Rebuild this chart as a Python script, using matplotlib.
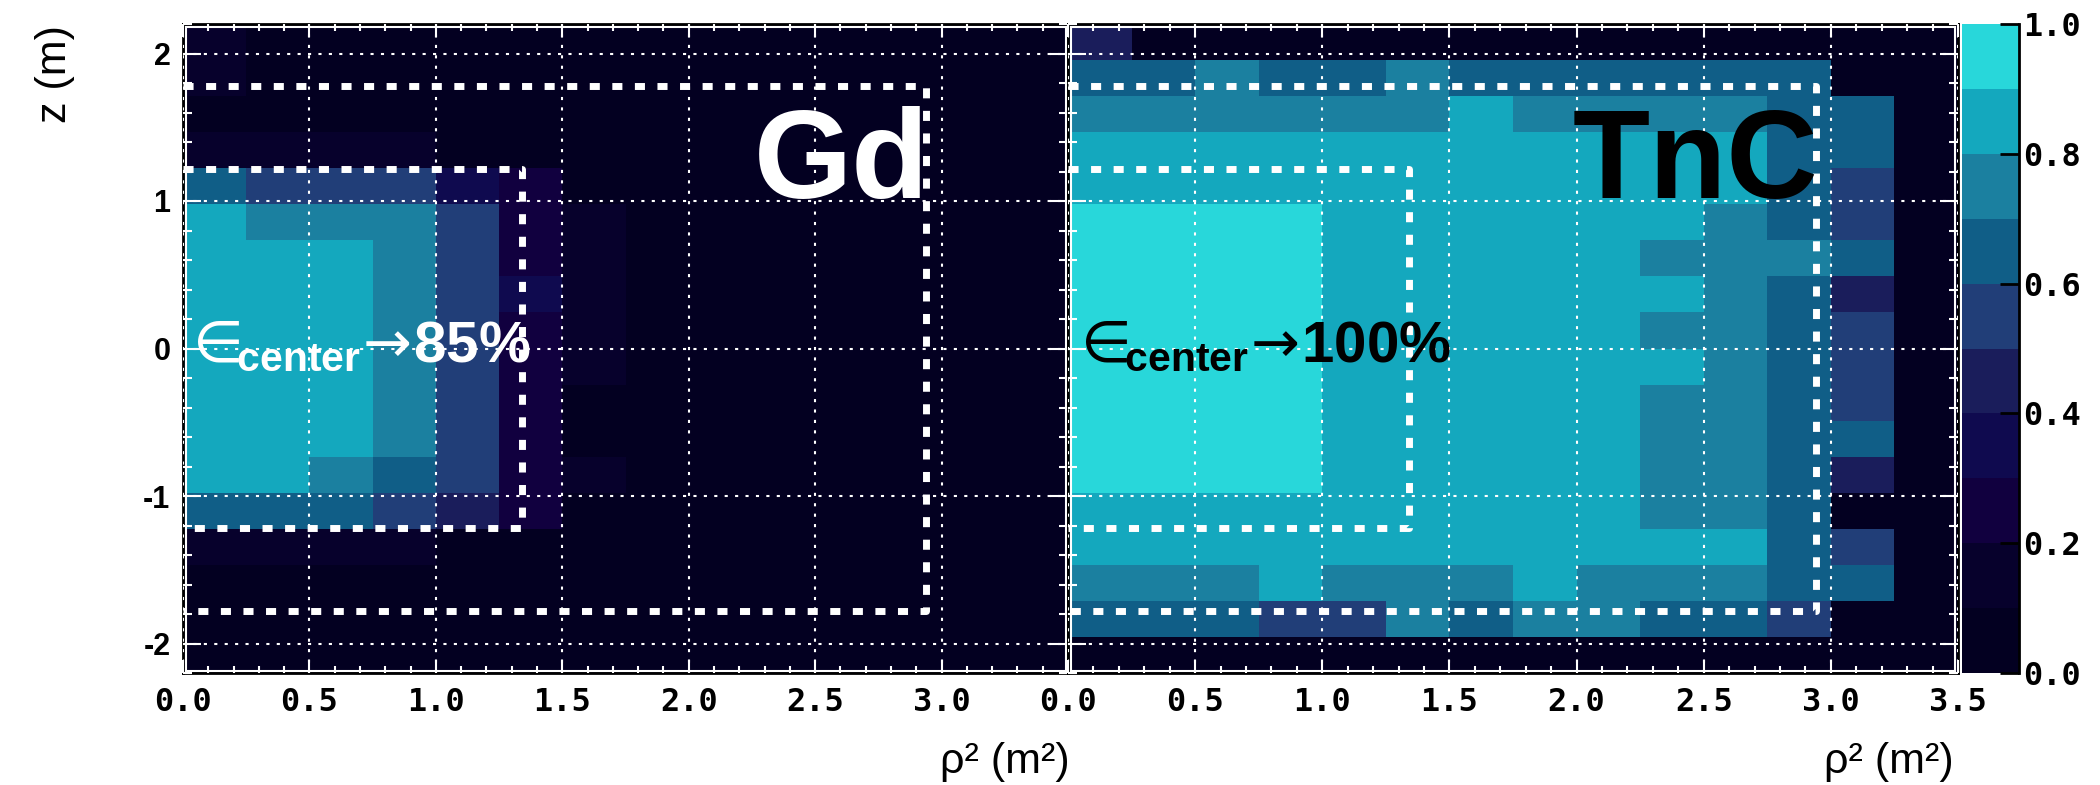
import numpy as np
import matplotlib
matplotlib.use("Agg")
import matplotlib.pyplot as plt
from matplotlib.colors import ListedColormap
from matplotlib.patches import Rectangle
from matplotlib.ticker import MultipleLocator

plt.rcParams['font.family'] = ['Liberation Sans', 'DejaVu Sans']
plt.rcParams['mathtext.fontset'] = 'custom'
plt.rcParams['mathtext.rm'] = 'DejaVu Sans'
plt.rcParams['mathtext.it'] = 'Liberation Sans:italic'
plt.rcParams['mathtext.bf'] = 'Liberation Sans:bold'
plt.rcParams['mathtext.sf'] = 'Liberation Sans'

# ---- data: efficiency per (rho^2, z) cell, rows listed from top (z=+2.2) to bottom (z=-2.2)
rho2_edges = np.arange(0, 3.51, 0.25)
z_edges = np.linspace(-2.2, 2.2, 19)

d = 0.05
gd_rows = [
    [.15, d, d, d, d, d, d, d, d, d, d, d, d, d],
    [.15, d, d, d, d, d, d, d, d, d, d, d, d, d],
    [d, d, d, d, d, d, d, d, d, d, d, d, d, d],
    [.15, .15, .15, .15, d, d, d, d, d, d, d, d, d, d],
    [.65, .55, .55, .55, .35, .25, d, d, d, d, d, d, d, d],
    [.85, .75, .75, .75, .55, .25, .15, d, d, d, d, d, d, d],
    [.85, .85, .85, .75, .55, .25, .15, d, d, d, d, d, d, d],
    [.85, .85, .85, .75, .55, .35, .15, d, d, d, d, d, d, d],
    [.85, .85, .85, .75, .55, .25, .15, d, d, d, d, d, d, d],
    [.85, .85, .85, .75, .55, .25, .15, d, d, d, d, d, d, d],
    [.85, .85, .85, .75, .55, .25, d, d, d, d, d, d, d, d],
    [.85, .85, .85, .75, .55, .25, d, d, d, d, d, d, d, d],
    [.85, .85, .75, .65, .55, .25, .15, d, d, d, d, d, d, d],
    [.65, .65, .65, .55, .45, .25, d, d, d, d, d, d, d, d],
    [.15, .15, .15, .15, d, d, d, d, d, d, d, d, d, d],
    [d, d, d, d, d, d, d, d, d, d, d, d, d, d],
    [d, d, d, d, d, d, d, d, d, d, d, d, d, d],
    [d, d, d, d, d, d, d, d, d, d, d, d, d, d],
]

tnc_rows = [
    [.45, d, d, d, d, d, d, d, d, d, d, d, d, d],
    [.65, .65, .75, .65, .65, .75, .65, .65, .65, .65, .65, .65, d, d],
    [.75, .75, .75, .75, .75, .75, .85, .75, .75, .75, .75, .65, .65, d],
    [.85, .85, .85, .85, .85, .85, .85, .85, .85, .85, .85, .65, .65, d],
    [.85, .85, .85, .85, .85, .85, .85, .85, .85, .85, .85, .65, .55, d],
    [.95, .95, .95, .95, .85, .85, .85, .85, .85, .85, .75, .65, .55, d],
    [.95, .95, .95, .95, .85, .85, .85, .85, .85, .75, .75, .75, .65, d],
    [.95, .95, .95, .95, .85, .85, .85, .85, .85, .85, .75, .65, .45, d],
    [.95, .95, .95, .95, .85, .85, .85, .85, .85, .75, .75, .65, .55, d],
    [.95, .95, .95, .95, .85, .85, .85, .85, .85, .85, .75, .65, .55, d],
    [.95, .95, .95, .95, .85, .85, .85, .85, .85, .75, .75, .65, .55, d],
    [.95, .95, .95, .95, .85, .85, .85, .85, .85, .75, .75, .65, .65, d],
    [.95, .95, .95, .95, .85, .85, .85, .85, .85, .75, .75, .65, .45, d],
    [.85, .85, .85, .85, .85, .85, .85, .85, .85, .75, .75, .65, d, d],
    [.85, .85, .85, .85, .85, .85, .85, .85, .85, .85, .85, .65, .55, d],
    [.75, .75, .75, .85, .75, .75, .75, .85, .75, .75, .75, .65, .65, d],
    [.65, .65, .65, .55, .55, .75, .65, .75, .75, .65, .65, .55, d, d],
    [d, d, d, d, d, d, d, d, d, d, d, d, d, d],
]

# fiducial volume cuts (rho^2 max, |z| max)
inner_cut = (1.34, 1.22)
outer_cut = (2.94, 1.78)

panel_names = ['Gd', 'TnC']
eff_labels = ['85', '100']
text_colors = ['white', 'black']
cbar_ticks = [0.0, 0.2, 0.4, 0.6, 0.8, 1.0]

palette = ['#030021', '#07012c', '#11003f', '#0f0a4f', '#1a1d5b',
           '#213e78', '#105e87', '#1b80a0', '#14a8be', '#28d7da']
cmap = ListedColormap(palette)

mono = dict(fontfamily='DejaVu Sans Mono', fontweight='bold', fontsize=23)

fig = plt.figure(figsize=(21, 7.85), dpi=100)
W, H = 2100, 785
bot = (H - 673) / H
hgt = 649 / H
ax1 = fig.add_axes([183 / W, bot, 885 / W, hgt])
ax2 = fig.add_axes([1068 / W, bot, 890 / W, hgt])
cax = fig.add_axes([1962 / W, bot, 57 / W, hgt])

eps_x = [0.0, 0.01]

for i, (ax, rows) in enumerate([(ax1, gd_rows), (ax2, tnc_rows)]):
    vals = np.array(rows)[::-1]
    mesh = ax.pcolormesh(rho2_edges, z_edges, vals, cmap=cmap, vmin=0, vmax=1,
                         shading='flat', zorder=0)
    ax.set_xlim(0, 3.5)
    ax.set_ylim(-2.2, 2.2)
    ax.set_axisbelow(False)
    ax.grid(True, which='major', color='white', ls=(0, (1.5, 3.5)), lw=1.5)

    xt = [0, 0.5, 1.0, 1.5, 2.0, 2.5, 3.0] if i == 0 else [0, 0.5, 1.0, 1.5, 2.0, 2.5, 3.0, 3.5]
    ax.set_xticks(xt, ['%.1f' % v for v in xt], **mono)
    ax.xaxis.set_minor_locator(MultipleLocator(0.1))
    yt = [-2, -1, 0, 1, 2]
    ax.set_yticks(yt, ['%d' % v for v in yt], fontweight='bold', fontsize=22)
    ax.yaxis.set_minor_locator(MultipleLocator(0.2))
    ax.tick_params(axis='x', which='major', direction='in', length=9.5, width=1.5,
                   color='white', top=True, bottom=True, pad=10)
    ax.tick_params(axis='x', which='minor', direction='in', length=4.7, width=1.5,
                   color='white', top=True, bottom=True)
    ax.tick_params(axis='y', which='major', direction='in', length=13, width=1.5,
                   color='white', left=True, right=True, pad=9)
    ax.tick_params(axis='y', which='minor', direction='in', length=6.5, width=1.5,
                   color='white', left=True, right=True)
    if i == 1:
        ax.tick_params(axis='y', labelleft=False)
    for sp in ax.spines.values():
        sp.set_color('black')
        sp.set_linewidth(2)
    px, py = 2.5 / 885, 2.5 / 649
    ax.add_patch(Rectangle((px, py), 1 - 2 * px, 1 - 2 * py, transform=ax.transAxes,
                           fill=False, ec='white', lw=1.5, zorder=5, clip_on=False))

    # fiducial cut outlines
    for r, z in (inner_cut, outer_cut):
        ax.plot([0, r, r, 0], [z, z, -z, -z], color='white', lw=5,
                ls=(0, (1.45, 1.8)), dash_capstyle='butt', zorder=3)

    tc = text_colors[i]
    ax.text(2.95, 1.02, panel_names[i], ha='right', va='baseline', fontsize=91,
            fontweight='bold', color=tc, zorder=4)
    label = r'$\in_{\!\!\!\mathbf{center}}\!\rightarrow\!\mathbf{%s\%%}$' % eff_labels[i]
    ax.text(eps_x[i], -0.09, label, fontsize=42, color=tc,
            va='baseline', ha='left', zorder=4)

cb = fig.colorbar(mesh, cax=cax, ticks=cbar_ticks)
cb.outline.set_visible(False)
cax.set_yticks(cbar_ticks, ['%.1f' % v for v in cbar_ticks], **mono)
cax.tick_params(direction='in', length=14, width=2, color='black', right=True, pad=3)
cax.plot([1, 1], [0, 1], transform=cax.transAxes, color='black', lw=2, clip_on=False)

fig.text(55 / W, 1 - 25 / H, 'z (m)', rotation=90, ha='center', va='top', fontsize=31)
fig.text(1070 / W, 1 - 773 / H, '\u03c1\u00b2 (m\u00b2)', ha='right', va='baseline', fontsize=31)
fig.text(1954 / W, 1 - 773 / H, '\u03c1\u00b2 (m\u00b2)', ha='right', va='baseline', fontsize=31)

fig.savefig('out.png', dpi=100)
